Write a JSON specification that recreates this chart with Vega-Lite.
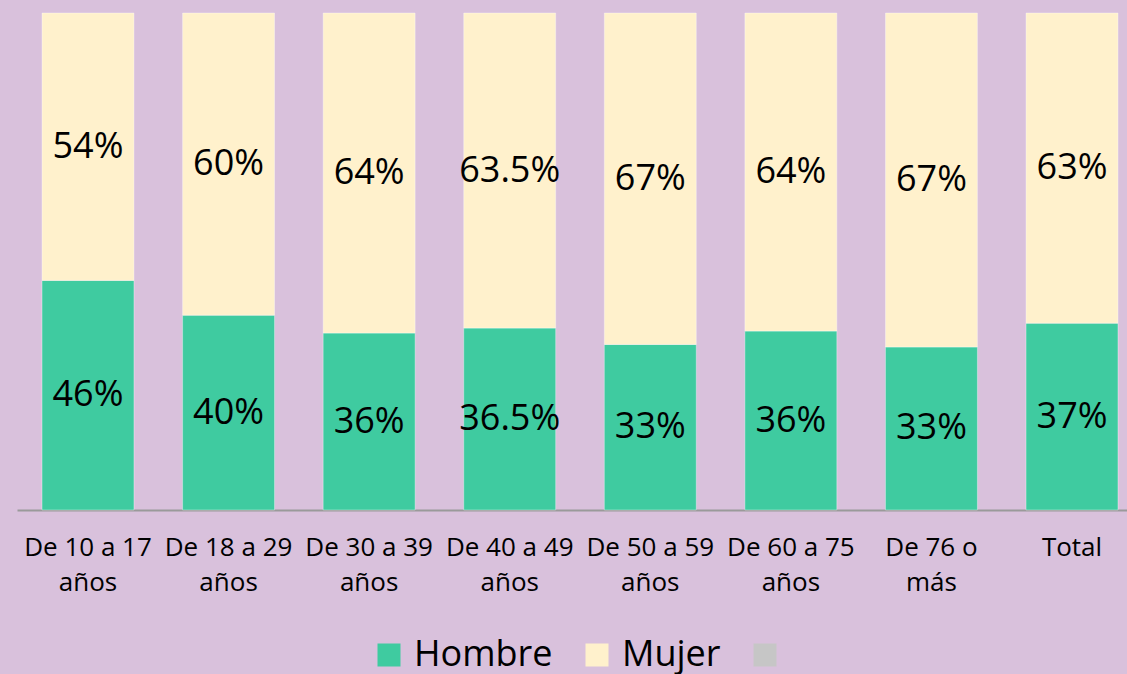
{
  "$schema": "https://vega.github.io/schema/vega-lite/v6.json",
  "width": 1110,
  "height": 497,
  "autosize": {"type": "none"},
  "padding": {"left": 17, "top": 13, "right": 0, "bottom": 164},
  "background": "#D9C1DC",
  "view": {"stroke": null},
  "config": {"font": "Open Sans"},
  "data": {
    "values": [
      {"grupo": "De 10 a 17 años", "sexo": "Hombre", "valor": 46.2, "etiqueta": "46%"},
      {"grupo": "De 10 a 17 años", "sexo": "Mujer", "valor": 53.8, "etiqueta": "54%"},
      {"grupo": "De 18 a 29 años", "sexo": "Hombre", "valor": 39.2, "etiqueta": "40%"},
      {"grupo": "De 18 a 29 años", "sexo": "Mujer", "valor": 60.8, "etiqueta": "60%"},
      {"grupo": "De 30 a 39 años", "sexo": "Hombre", "valor": 35.6, "etiqueta": "36%"},
      {"grupo": "De 30 a 39 años", "sexo": "Mujer", "valor": 64.4, "etiqueta": "64%"},
      {"grupo": "De 40 a 49 años", "sexo": "Hombre", "valor": 36.6, "etiqueta": "36.5%"},
      {"grupo": "De 40 a 49 años", "sexo": "Mujer", "valor": 63.4, "etiqueta": "63.5%"},
      {"grupo": "De 50 a 59 años", "sexo": "Hombre", "valor": 33.3, "etiqueta": "33%"},
      {"grupo": "De 50 a 59 años", "sexo": "Mujer", "valor": 66.7, "etiqueta": "67%"},
      {"grupo": "De 60 a 75 años", "sexo": "Hombre", "valor": 36.0, "etiqueta": "36%"},
      {"grupo": "De 60 a 75 años", "sexo": "Mujer", "valor": 64.0, "etiqueta": "64%"},
      {"grupo": "De 76 o más", "sexo": "Hombre", "valor": 32.8, "etiqueta": "33%"},
      {"grupo": "De 76 o más", "sexo": "Mujer", "valor": 67.2, "etiqueta": "67%"},
      {"grupo": "Total", "sexo": "Hombre", "valor": 37.6, "etiqueta": "37%"},
      {"grupo": "Total", "sexo": "Mujer", "valor": 62.4, "etiqueta": "63%"}
    ]
  },
  "encoding": {
    "x": {
      "field": "grupo",
      "type": "nominal",
      "sort": null,
      "title": null,
      "scale": {"paddingInner": 0.346, "paddingOuter": 0.178, "range": [0, 1126]},
      "axis": {
        "labelAngle": 0,
        "ticks": false,
        "domainColor": "#9A9A9A",
        "domainWidth": 2,
        "labelFontSize": 26,
        "labelColor": "#000000",
        "labelPadding": 24,
        "labelLineHeight": 35,
        "labelLimit": 200,
        "labelExpr": "datum.label == 'Total' ? 'Total' : datum.label == 'De 76 o más' ? ['De 76 o', 'más'] : [replace(datum.label, ' años', ''), 'años']"
      }
    },
    "y": {
      "field": "valor",
      "type": "quantitative",
      "stack": "normalize",
      "axis": null
    }
  },
  "layer": [
    {
      "mark": {"type": "bar", "stroke": "#FFFFFF", "strokeWidth": 1, "strokeOpacity": 0.35},
      "encoding": {
        "color": {
          "field": "sexo",
          "type": "nominal",
          "scale": {"domain": ["Hombre", "Mujer", ""], "range": ["#3FCBA0", "#FFF1CC", "#C6C6C6"]},
          "legend": {
            "orient": "none",
            "direction": "horizontal",
            "legendX": 354,
            "legendY": 624,
            "title": null,
            "symbolType": "square",
            "symbolSize": 529,
            "symbolStrokeWidth": 0,
            "symbolOpacity": 1,
            "labelFontSize": 36,
            "labelColor": "#000000",
            "labelOffset": 7,
            "columnPadding": 26
          }
        },
        "order": {"field": "sexo", "sort": "ascending"}
      }
    },
    {
      "mark": {"type": "text", "fontSize": 36, "color": "#000000", "baseline": "middle"},
      "encoding": {
        "y": {"field": "valor", "type": "quantitative", "stack": "normalize", "bandPosition": 0.5},
        "text": {"field": "etiqueta"},
        "order": {"field": "sexo", "sort": "ascending"}
      }
    }
  ]
}
